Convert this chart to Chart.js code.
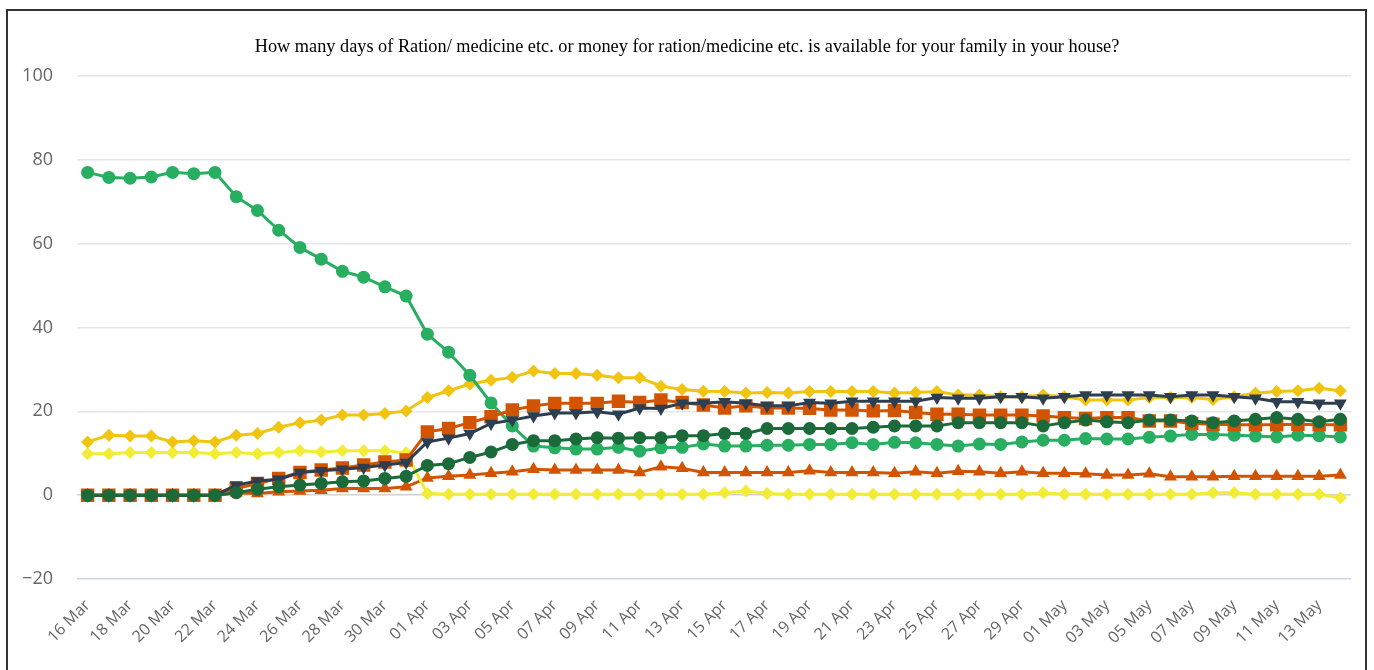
<!DOCTYPE html>
<html>
<head>
<meta charset="utf-8">
<script src="https://cdn.jsdelivr.net/npm/chart.js@4"></script>
<style>
  html, body { margin: 0; padding: 0; background: #fff; overflow: hidden; }
  #frame { position: absolute; left: 6px; top: 9px; width: 1361px; height: 720px; border: 2px solid #333; box-sizing: border-box; }
  #wrap { position: absolute; left: 0; top: 0; width: 1374px; height: 670px; }
</style>
</head>
<body>
<div id="frame"></div>
<div id="wrap"><canvas id="rationChart" width="1374" height="670"></canvas></div>
<script>
// categories: 16 Mar .. 14 May
const days = [
    '16 Mar', '17 Mar', '18 Mar', '19 Mar', '20 Mar', '21 Mar', '22 Mar', '23 Mar', '24 Mar', '25 Mar',
    '26 Mar', '27 Mar', '28 Mar', '29 Mar', '30 Mar', '31 Mar', '01 Apr', '02 Apr', '03 Apr', '04 Apr',
    '05 Apr', '06 Apr', '07 Apr', '08 Apr', '09 Apr', '10 Apr', '11 Apr', '12 Apr', '13 Apr', '14 Apr',
    '15 Apr', '16 Apr', '17 Apr', '18 Apr', '19 Apr', '20 Apr', '21 Apr', '22 Apr', '23 Apr', '24 Apr',
    '25 Apr', '26 Apr', '27 Apr', '28 Apr', '29 Apr', '30 Apr', '01 May', '02 May', '03 May', '04 May',
    '05 May', '06 May', '07 May', '08 May', '09 May', '10 May', '11 May', '12 May', '13 May', '14 May'
];

const yTicks = [-20, 0, 20, 40, 60, 80, 100];

// series values (%)
const lightGreen = [
    77.0, 75.8, 75.6, 75.9, 77.0, 76.7, 77.0, 71.2, 67.9, 63.2,
    59.1, 56.3, 53.4, 52.0, 49.7, 47.5, 38.4, 34.1, 28.6, 22.0,
    16.5, 11.7, 11.3, 11.0, 11.0, 11.4, 10.5, 11.3, 11.4, 12.2,
    11.7, 11.7, 11.9, 11.9, 12.1, 12.1, 12.5, 12.1, 12.6, 12.5,
    12.1, 11.7, 12.2, 12.1, 12.7, 13.1, 13.1, 13.5, 13.4, 13.4,
    13.8, 14.1, 14.5, 14.5, 14.3, 14.1, 13.9, 14.3, 14.2, 13.9
];
const gold = [
    12.7, 14.3, 14.1, 14.1, 12.7, 13.0, 12.7, 14.3, 14.7, 16.2,
    17.3, 17.9, 19.1, 19.1, 19.5, 20.1, 23.3, 24.9, 26.5, 27.4,
    28.1, 29.6, 29.0, 29.0, 28.6, 28.0, 28.0, 26.0, 25.2, 24.8,
    24.7, 24.4, 24.5, 24.4, 24.7, 24.7, 24.7, 24.7, 24.4, 24.5,
    24.7, 23.9, 23.9, 23.5, 23.5, 23.9, 23.5, 22.7, 22.7, 22.7,
    23.3, 23.3, 23.3, 22.8, 23.5, 24.3, 24.7, 24.9, 25.5, 24.9
];
const yellow = [
    9.9, 9.9, 10.2, 10.2, 10.2, 10.2, 9.9, 10.2, 9.9, 10.2,
    10.6, 10.3, 10.6, 10.6, 10.6, 10.1, 0.4, 0.2, 0.2, 0.2,
    0.2, 0.2, 0.2, 0.2, 0.2, 0.2, 0.2, 0.2, 0.2, 0.2,
    0.6, 1.0, 0.4, 0.2, 0.2, 0.2, 0.2, 0.2, 0.2, 0.2,
    0.2, 0.2, 0.2, 0.2, 0.2, 0.6, 0.2, 0.2, 0.2, 0.2,
    0.2, 0.2, 0.2, 0.6, 0.6, 0.2, 0.2, 0.2, 0.2, -0.6
];
const orangeSquares = [
    0, 0, 0, 0, 0, 0, 0, 1.6, 2.8, 4.0,
    5.4, 6.0, 6.5, 7.2, 7.9, 8.4, 15.1, 15.9, 17.3, 18.7,
    20.3, 21.3, 21.9, 21.9, 21.9, 22.4, 22.1, 22.7, 22.1, 21.5,
    20.8, 21.3, 20.8, 20.8, 20.7, 20.3, 20.3, 20.1, 20.2, 19.7,
    19.3, 19.3, 19.1, 19.1, 19.1, 18.9, 18.5, 18.3, 18.5, 18.5,
    17.7, 17.7, 17.1, 16.9, 16.8, 16.8, 16.8, 16.9, 16.8, 16.8
];
const navy = [
    0, 0, 0, 0, 0, 0, 0, 2.4, 3.4, 3.8,
    5.4, 5.8, 6.2, 6.6, 7.2, 7.8, 12.7, 13.6, 14.7, 17.1,
    17.9, 18.9, 19.6, 19.6, 19.9, 19.3, 20.8, 20.7, 21.9, 21.9,
    22.3, 21.9, 21.3, 21.3, 22.1, 21.9, 22.4, 22.4, 22.4, 22.4,
    23.3, 23.1, 23.1, 23.5, 23.5, 23.1, 23.5, 23.9, 23.9, 23.9,
    23.9, 23.5, 23.9, 23.9, 23.5, 23.1, 22.3, 22.3, 21.9, 21.9
];
const darkGreen = [
    0, 0, 0, 0, 0, 0, 0, 0.6, 1.4, 2.0,
    2.4, 2.8, 3.2, 3.4, 4.0, 4.5, 7.1, 7.5, 9.0, 10.3,
    12.1, 13.0, 13.0, 13.4, 13.7, 13.6, 13.7, 13.7, 14.2, 14.2,
    14.7, 14.7, 15.9, 15.9, 15.9, 15.9, 15.9, 16.2, 16.5, 16.5,
    16.5, 17.3, 17.3, 17.3, 17.3, 16.5, 17.3, 17.9, 17.5, 17.3,
    17.9, 17.9, 17.7, 17.3, 17.7, 18.1, 18.5, 18.1, 17.5, 18.1
];
const orangeTriangles = [
    0, 0, 0, 0, 0, 0, 0, 0.5, 0.4, 0.8,
    1.0, 1.2, 1.6, 1.6, 1.6, 2.0, 4.1, 4.5, 4.8, 5.2,
    5.6, 6.2, 6.0, 6.0, 6.0, 6.0, 5.4, 6.8, 6.4, 5.4,
    5.4, 5.4, 5.4, 5.4, 5.8, 5.4, 5.4, 5.4, 5.2, 5.6,
    5.2, 5.7, 5.6, 5.2, 5.6, 5.2, 5.2, 5.1, 4.8, 4.8,
    5.1, 4.4, 4.4, 4.4, 4.5, 4.5, 4.5, 4.5, 4.5, 4.8
];

function series(data, color, style, radius, rotation) {
    return {
        data: data,
        borderColor: color,
        backgroundColor: color,
        pointBackgroundColor: color,
        pointBorderColor: color,
        pointBorderWidth: 0,
        pointStyle: style,
        pointRadius: radius,
        pointRotation: rotation || 0,
        borderWidth: 3,
        tension: 0
    };
}

const tickFont = { family: '"Open Sans", sans-serif' };

new Chart(document.getElementById('rationChart'), {
    type: 'line',
    data: {
        labels: days,
        // first dataset is drawn on top
        datasets: [
            series(darkGreen, '#1b6b3a', 'circle', 6.5),
            series(navy, '#2c3e50', 'triangle', 7.5, 180),
            series(orangeSquares, '#d35400', 'rect', 9.5),
            series(lightGreen, '#27ae60', 'circle', 6.5),
            series(gold, '#f1c40f', 'rectRot', 6.5),
            series(yellow, '#f2ec35', 'rectRot', 6.5),
            series(orangeTriangles, '#d35400', 'triangle', 7.5)
        ]
    },
    options: {
        responsive: false,
        animation: false,
        layout: { padding: 0 },
        plugins: {
            legend: { display: false },
            tooltip: { enabled: false },
            title: {
                display: true,
                text: 'How many days of Ration/ medicine etc. or money for ration/medicine etc. is available for your family in your house?',
                color: '#000',
                font: { family: '"Liberation Serif", "Times New Roman", serif', size: 18.3, weight: 'normal' },
                padding: { top: 36.3, bottom: 17.7 }
            }
        },
        scales: {
            x: {
                offset: true,
                grid: { display: false },
                border: { display: false },
                ticks: {
                    autoSkip: false,
                    minRotation: 45,
                    maxRotation: 45,
                    padding: 9,
                    color: '#666',
                    font: Object.assign({ size: 16 }, tickFont),
                    callback: function (val, i) { return i % 2 === 0 ? days[i] : ''; }
                },
                afterFit: function (scale) { scale.height = 91; }
            },
            y: {
                min: yTicks[0],
                max: yTicks[yTicks.length - 1],
                afterBuildTicks: function (scale) { scale.ticks = yTicks.map(v => ({ value: v })); },
                border: { display: false },
                grid: {
                    drawTicks: false,
                    lineWidth: 1.5,
                    color: function (ctx) {
                        if (ctx.tick.value === -20) return '#ccd6eb';
                        if (ctx.tick.value === 0) return '#d2d2d2';
                        return '#e6e6e6';
                    }
                },
                ticks: {
                    padding: 24,
                    color: '#666',
                    font: Object.assign({ size: 18 }, tickFont),
                    callback: function (v) { return v < 0 ? '\u2212' + Math.abs(v) : String(v); }
                },
                afterFit: function (scale) { scale.width = 77; }
            },
            // empty right-hand spacer so the title stays centred on the page
            spacer: {
                position: 'right',
                min: 0,
                max: 1,
                grid: { display: false, drawTicks: false },
                border: { display: false },
                ticks: { display: false },
                afterFit: function (scale) { scale.width = 23; }
            }
        }
    }
});
</script>
</body>
</html>
